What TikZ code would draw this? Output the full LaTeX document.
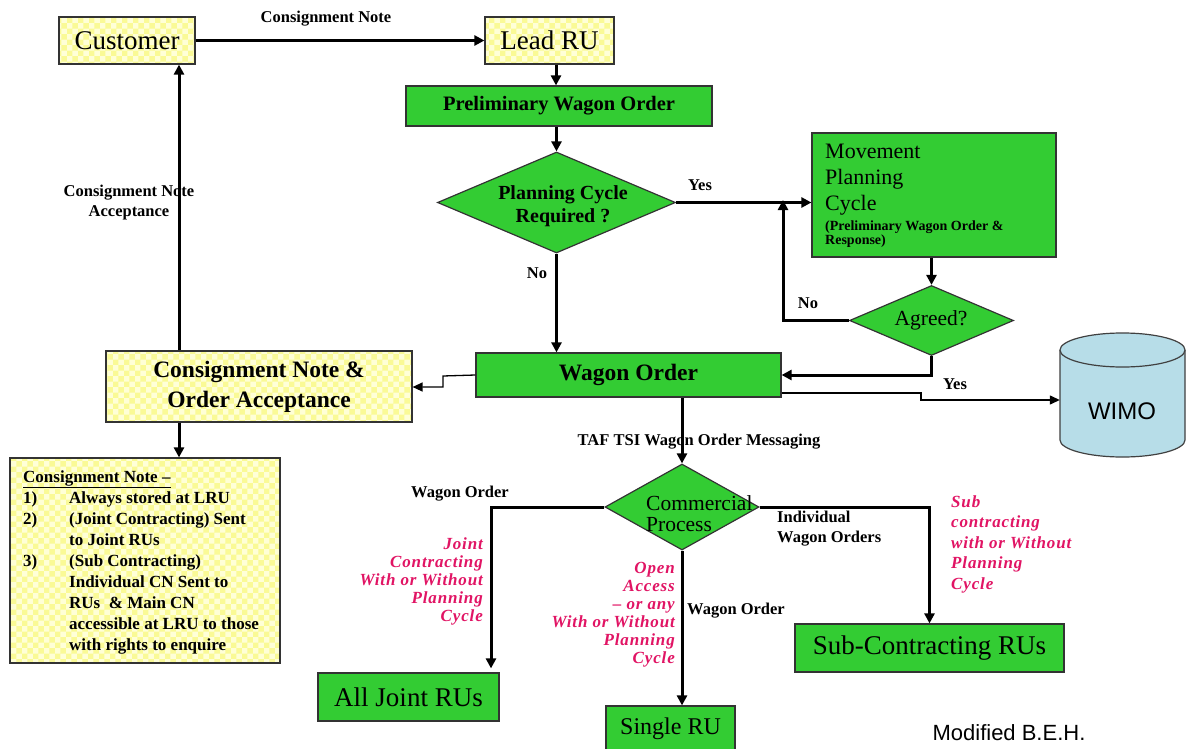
\documentclass[tikz,border=0pt]{standalone}
\usepackage{fontspec}
\setmainfont{Liberation Serif}
\newfontfamily\arialfont{Liberation Sans}
\usetikzlibrary{arrows.meta,shapes.geometric,patterns}
\definecolor{boxgreen}{RGB}{51,204,51}
\definecolor{ylw}{RGB}{250,250,150}
\definecolor{ylwbg}{RGB}{255,255,215}
\definecolor{pinktxt}{RGB}{225,20,100}
\definecolor{wimoblue}{RGB}{183,221,232}
\tikzset{
 ybox/.style={draw=black!80, line width=1.2pt, preaction={fill=ylwbg}, pattern=checkerboard, pattern color=ylw, inner sep=0pt, align=center},
 gbox/.style={draw=black!80, line width=1.2pt, fill=boxgreen, inner sep=0pt, align=center},
 gdia/.style={diamond, draw=black!80, line width=1.2pt, fill=boxgreen, inner sep=0pt},
 arr/.style={line width=3pt, -{Triangle[length=10pt,width=10pt]}},
 tarr/.style={line width=1.3pt, -{Triangle[length=10pt,width=9pt]}},
 lab/.style={font=\bfseries\fontsize{16.5}{20}\selectfont, inner sep=0pt},
 pinklab/.style={font=\bfseries\itshape\fontsize{17}{18}\selectfont\addfontfeature{LetterSpace=5}, text=pinktxt, inner sep=0pt},
}
\begin{document}
\begin{tikzpicture}[x=1pt,y=-1pt]
\fill[white] (0,0) rectangle (1191,749);
\useasboundingbox (0,0) rectangle (1191,749);

% boxes
\node[ybox, minimum width=136pt, minimum height=47pt, font=\fontsize{27}{30}\selectfont] (cust) at (127,40.5) {Customer};
\node[ybox, minimum width=129pt, minimum height=47pt, font=\fontsize{27}{30}\selectfont] (lead) at (549.5,40.5) {Lead RU};
\node[gbox, minimum width=306pt, minimum height=40pt, font=\bfseries\fontsize{20.5}{24}\selectfont] (pwo) at (559,106) {Preliminary Wagon Order};
\node[gdia, minimum width=238pt, minimum height=101pt] (pc) at (556.5,202.5) {};
\node[font=\bfseries\fontsize{20}{23}\selectfont, align=center, inner sep=0pt] (pct) at (563,206) {Planning Cycle\\Required ?};
\node[gbox, minimum width=244pt, minimum height=124pt] (mpc) at (934,195) {};
\node[anchor=north west, align=left, inner sep=0pt, font=\fontsize{22}{26}\selectfont] (mpct) at (825,144) {Movement\\Planning\\Cycle};
\node[anchor=north west, align=left, inner sep=0pt, font=\bfseries\fontsize{14}{14}\selectfont] (mpcs) at (825,221) {(Preliminary Wagon Order \&\\Response)};
\node[gdia, minimum width=164pt, minimum height=70pt] (ag) at (931.5,320.5) {};
\node[font=\fontsize{21.5}{24}\selectfont, inner sep=0pt] (agt) at (931,320) {Agreed?};
\node[gbox, minimum width=305pt, minimum height=44pt, font=\bfseries\fontsize{23.5}{26}\selectfont] (wo) at (628.5,375) {Wagon Order};
\node[ybox, minimum width=306pt, minimum height=71pt, font=\bfseries\fontsize{23.5}{30}\selectfont] (cn) at (259,386.5) {Consignment Note \&\\Order Acceptance};
\node[ybox, minimum width=270pt, minimum height=205pt] (note) at (145,560.5) {};
\node[anchor=north west, align=left, inner sep=0pt, font=\bfseries\fontsize{17}{21}\selectfont] (notet) at (23,470) {\underline{Consignment Note --}\\
\makebox[46pt][l]{1)}Always stored at LRU\\
\makebox[46pt][l]{2)}(Joint Contracting) Sent\\
\hspace*{46pt}to Joint RUs\\
\makebox[46pt][l]{3)}(Sub Contracting)\\
\hspace*{46pt}Individual CN Sent to\\
\hspace*{46pt}RUs \ \& Main CN\\
\hspace*{46pt}accessible at LRU to those\\
\hspace*{46pt}with rights to enquire};

% WIMO cylinder
\fill[wimoblue] (1060,350) -- (1060,440) arc[start angle=180, end angle=0, x radius=62.5, y radius=17] -- (1185,350) -- cycle;
\draw[black!75, line width=1.2pt] (1060,350) -- (1060,440) arc[start angle=180, end angle=0, x radius=62.5, y radius=17] -- (1185,350);
\draw[black!75, line width=1.2pt, fill=wimoblue] (1122.5,350) ellipse[x radius=62.5, y radius=17];
\node[minimum width=125pt, minimum height=107pt, inner sep=0pt] (wimo) at (1122.5,395) {};
\node[font=\arialfont\fontsize{24}{26}\selectfont, inner sep=0pt] (wimot) at (1122,411) {WIMO};

\node[gdia, minimum width=154pt, minimum height=86pt] (cp) at (682,507) {};
\node[anchor=west, align=left, font=\fontsize{21.5}{21}\selectfont, inner sep=0pt] (cpt) at (646,514) {Commercial\\Process};
\node[gbox, minimum width=181pt, minimum height=48pt, font=\fontsize{27}{30}\selectfont] (ajr) at (408.5,697) {All Joint RUs};
\node[gbox, minimum width=129pt, minimum height=46pt, font=\fontsize{24}{28}\selectfont] (sru) at (670.5,729) {Single RU};
\node[gbox, minimum width=269pt, minimum height=48pt, font=\fontsize{27}{30}\selectfont] (scr) at (929.5,648) {Sub-Contracting RUs};

% coordinates
\coordinate (xa) at (556,0);
\coordinate (nj) at (783,200);
\coordinate (w1) at (921,393);
\coordinate (w2) at (921,400);
\coordinate (c1) at (443,376);
\coordinate (c2) at (443,387);
\coordinate (cx) at (179,0);
\coordinate (ajx) at (491,0);

% connectors
\draw[arr] (cust.east) -- (lead.west);
\draw[arr] (lead.south -| xa) -- (pwo.north -| xa);
\draw[arr] (pwo.south -| pc.north) -- (pc.north);
\draw[arr] (pc.east) -- (pc.east -| mpc.west);
\draw[arr] (mpc.south -| ag.north) -- (ag.north);
\draw[arr] (ag.west) -| (nj);
\draw[arr] (ag.south) |- (wo.east);
\draw[arr] (pc.south) -- (pc.south |- wo.north);
\draw[tarr] (wo.east |- w1) -- (w1) -- (w2) -- (w2 -| wimo.west);
\draw[tarr] (wo.west) -- (c1) -- (c2) -- (cn.east |- c2);
\draw[arr] (cn.north -| cx) -- (cust.south -| cx);
\draw[arr] (cn.south -| cx) -- (note.north -| cx);
\draw[arr] (wo.south -| cp.north) -- (cp.north);
\draw[arr, shorten >=4pt] (cp.west) -| (ajr.north -| ajx);
\draw[arr] (cp.south) -- (cp.south |- sru.north);
\draw[arr] (cp.east) -| (scr.north);

% labels
\node[lab] (l1) at (326,19) {Consignment Note};
\node[lab] (l2) at (700,185) {Yes};
\node[lab] (l3) at (537,273) {No};
\node[lab] (l4) at (808,303) {No};
\node[lab] (l5) at (955,384) {Yes};
\node[lab, align=center] (l6) at (129,203) {Consignment Note\\Acceptance};
\node[lab] (l7) at (699,442) {TAF TSI Wagon Order Messaging};
\node[lab] (l8) at (460,494) {Wagon Order};
\node[lab, anchor=west] (l9) at (687,611) {Wagon Order};
\node[lab, anchor=west, align=left] (l10) at (777,529) {Individual\\Wagon Orders};
\node[pinklab, anchor=east, align=right] (p1) at (483,581) {Joint\\Contracting\\With or Without\\Planning\\Cycle};
\node[pinklab, anchor=east, align=right] (p2) at (675,615) {Open\\Access\\-- or any\\With or Without\\Planning\\Cycle};
\node[pinklab, anchor=west, align=left, font=\bfseries\itshape\fontsize{17}{20.5}\selectfont\addfontfeature{LetterSpace=5}] (p3) at (951,544) {Sub\\contracting\\with or Without\\Planning\\Cycle};
\node[font=\arialfont\fontsize{22}{24}\selectfont, inner sep=0pt] (mod) at (1009,733) {Modified B.E.H.};
\end{tikzpicture}
\end{document}
